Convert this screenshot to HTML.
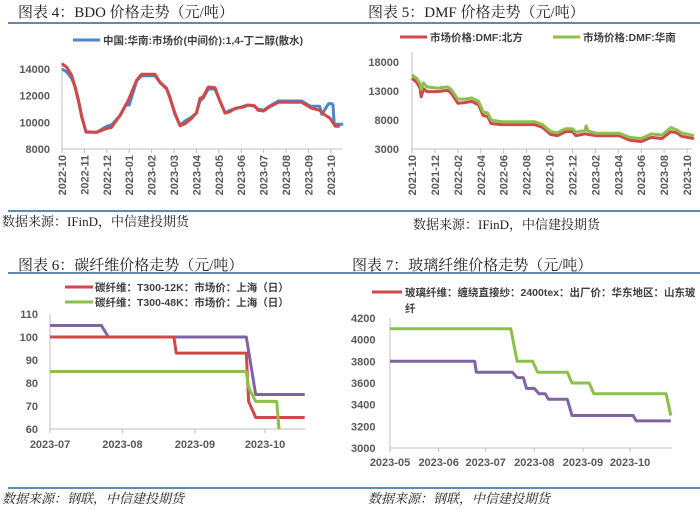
<!DOCTYPE html>
<html><head><meta charset="utf-8"><style>
body{margin:0;background:#fff;}
svg{display:block;font-family:"Liberation Sans","Noto Sans CJK SC",sans-serif;}
.t{font-family:"Liberation Serif","Noto Serif CJK SC",serif;font-size:15px;fill:#222;}
.src{font-family:"Liberation Serif","Noto Serif CJK SC",serif;font-size:13px;fill:#222;}
.tk{font-size:11px;font-weight:bold;fill:#595959;}
.lg{font-size:10.5px;font-weight:bold;fill:#404040;}
</style></head><body>
<svg id="s" width="700" height="528">
<text class="t" x="18" y="17">图表 4：BDO 价格走势（元/吨）</text>
<text class="t" x="368" y="17">图表 5：DMF 价格走势（元/吨）</text>
<text class="t" x="18" y="270">图表 6：碳纤维价格走势（元/吨）</text>
<text class="t" x="352" y="270">图表 7：玻璃纤维价格走势（元/吨）</text>
<line x1="8" y1="23" x2="700" y2="23" stroke="#2f6392" stroke-width="1.5"/>
<line x1="8" y1="211" x2="700" y2="211" stroke="#2f6392" stroke-width="1.5"/>
<line x1="8" y1="273" x2="700" y2="273" stroke="#2f6392" stroke-width="1.5"/>
<line x1="8" y1="488" x2="700" y2="488" stroke="#2f6392" stroke-width="1.5"/>
<text class="src" x="2" y="226">数据来源：IFinD，中信建投期货</text>
<text class="src" x="413" y="229">数据来源：IFinD，中信建投期货</text>
<text class="src" x="2" y="503" font-style="italic">数据来源：钢联，中信建投期货</text>
<text class="src" x="368" y="503" font-style="italic">数据来源：钢联，中信建投期货</text>

<line x1="73" y1="40" x2="100" y2="40" stroke="#4a86c8" stroke-width="3"/>
<text class="lg" x="103" y="44">中国:华南:市场价(中间价):1,4-丁二醇(散水)</text>
<line x1="400" y1="37" x2="427" y2="37" stroke="#d04848" stroke-width="3"/>
<text class="lg" x="430" y="41">市场价格:DMF:北方</text>
<line x1="553" y1="37" x2="580" y2="37" stroke="#8cc04a" stroke-width="3"/>
<text class="lg" x="583" y="41">市场价格:DMF:华南</text>
<line x1="65" y1="287" x2="93" y2="287" stroke="#d04848" stroke-width="3"/>
<text class="lg" x="95" y="291">碳纤维：T300-12K：市场价：上海（日）</text>
<line x1="65" y1="302" x2="93" y2="302" stroke="#8cc04a" stroke-width="3"/>
<text class="lg" x="95" y="306">碳纤维：T300-48K：市场价：上海（日）</text>
<line x1="372" y1="292" x2="402" y2="292" stroke="#d04848" stroke-width="3"/>
<text class="lg" x="405" y="296">玻璃纤维：缠绕直接纱：2400tex：出厂价：华东地区：山东玻</text>
<text class="lg" x="405" y="312">纤</text>
</svg>
<script>
// BDO (x = months since 2022-10)
const bdoMonths=["2022-10","2022-11","2022-12","2023-01","2023-02","2023-03","2023-04","2023-05","2023-06","2023-07","2023-08","2023-09","2023-10"];
const bdoYTicks=[8000,10000,12000,14000];
const bdoRedX=[0,0.2,0.43,0.58,0.73,0.88,1.07,1.55,2.0,2.2,2.6,2.96,3.33,3.55,4.15,4.37,4.67,4.82,5.04,5.27,5.49,5.79,6.0,6.16,6.3,6.53,6.83,7.05,7.28,7.5,7.72,8.1,8.3,8.6,8.75,9.0,9.25,9.66,10.7,11.15,11.5,11.74,11.97,12.2,12.4];
const bdoRedY=[14400,14150,13550,12650,11600,10400,9300,9250,9550,9600,10550,11650,13150,13600,13600,13000,12550,11800,10700,9750,9900,10300,10700,11800,11900,12650,12600,11600,10700,10800,11050,11150,11300,11250,10900,10850,11150,11500,11500,11050,10900,10550,10300,9700,9700];
const bdoBlueX=[0,0.2,0.43,0.58,0.73,0.88,1.07,1.55,2.0,2.2,2.6,2.85,3.0,3.33,3.55,4.15,4.37,4.67,4.82,5.04,5.27,5.49,5.79,6.0,6.16,6.3,6.53,6.83,7.05,7.28,7.5,7.72,8.1,8.3,8.6,8.75,9.0,9.25,9.66,10.7,11.1,11.5,11.6,11.9,12.05,12.1,12.15,12.55];
const bdoBlueY=[14000,13800,13300,12700,11700,10500,9250,9250,9700,9800,10500,11300,11300,13100,13500,13500,13000,12500,11900,10600,9800,10100,10400,10700,11600,11800,12500,12500,11600,10700,10900,11000,11200,11300,11200,11000,10900,11200,11600,11600,11200,11200,10600,11400,11400,11300,9850,9850];
// DMF (x = months since 2021-10)
const dmfLabels=["2021-10","2021-12","2022-02","2022-04","2022-06","2022-08","2022-10","2022-12","2023-02","2023-04","2023-06","2023-08","2023-10"];
const dmfYTicks=[3000,8000,13000,18000];
const dmfSouthX=[0,0.4,0.7,0.8,1.0,1.3,2.2,3.1,3.4,4.0,4.6,5.2,5.8,6.2,6.6,6.9,7.8,10.7,11.4,12.1,12.7,13.4,14.0,14.3,15.1,15.2,15.35,16.1,18.1,19.0,20.0,20.9,21.8,22.6,23.1,23.5,24.6];
const dmfSouthY=[15800,15200,14300,13300,14400,13700,13500,13700,13300,11600,11600,11800,11200,9400,9200,8000,7700,7700,7200,6000,5800,6500,6500,5900,6200,7000,6100,5700,5700,5000,4800,5600,5400,6700,6300,5800,5300];
const dmfNorthX=[0,0.4,0.7,0.8,1.0,1.3,2.2,3.1,3.4,4.0,4.6,5.2,5.8,6.2,6.6,6.9,7.8,10.7,11.4,12.1,12.7,13.4,14.0,14.3,15.1,15.2,15.35,16.1,18.1,19.0,20.0,20.9,21.8,22.6,23.1,23.5,24.6];
const dmfNorthY=[15200,14500,13500,12000,13400,12900,12900,13100,12700,10900,11000,11200,10600,8800,8600,7400,7200,7200,6700,5500,5300,6000,6000,5300,5600,5600,5500,5300,5300,4500,4300,5000,4800,6000,5800,5200,4800];
// Carbon fiber (x = days since 2023-07-01)
const cfLabels=["2023-07","2023-08","2023-09","2023-10"];
const cfLabelDays=[0,31,62,92];
const cfYTicks=[60,70,80,90,100,110];
const cfPurpleX=[0,22,25,84,88,109];
const cfPurpleY=[105,105,100,100,75,75];
const cfRedX=[0,53,54,84,85,88,109];
const cfRedY=[100,100,93,93,72,65,65];
const cfGreenX=[0,84,85,88,97,98];
const cfGreenY=[85,85,78,72,72,60];
// Glass fiber (x = days since 2023-05-01)
const gfLabels=["2023-05","2023-06","2023-07","2023-08","2023-09","2023-10"];
const gfLabelDays=[0,31,61,92,123,153];
const gfYTicks=[3000,3200,3400,3600,3800,4000,4200];
const gfGreenX=[0,77,81,91,94,113,116,127,130,176,179];
const gfGreenY=[4100,4100,3800,3800,3700,3700,3600,3600,3500,3500,3300];
const gfPurpleX=[0,54,55,78,81,85,87,92,95,99,101,113,116,155,157,179];
const gfPurpleY=[3800,3800,3700,3700,3650,3650,3550,3550,3500,3500,3450,3450,3300,3300,3250,3250];

const svg=document.getElementById('s');
const NS='http://www.w3.org/2000/svg';
function mk(tag,a){const e=document.createElementNS(NS,tag);for(const k in a)e.setAttribute(k,a[k]);svg.appendChild(e);return e;}
function lin(d0,d1,r0,r1){return v=>r0+(v-d0)/(d1-d0)*(r1-r0);}
function series(xs,ys,sx,sy,color,name){
  const pts=xs.map((x,i)=>sx(x).toFixed(1)+','+sy(ys[i]).toFixed(1)).join(' ');
  const p=mk('polyline',{points:pts,fill:'none',stroke:color,'stroke-width':3,'stroke-linejoin':'round'});
  
  
}
function yAxis(ticks,sy,x,anchor,name){
  ticks.forEach(t=>{const e=mk('text',{x:x,y:sy(t)+4,'text-anchor':anchor,class:'tk'});e.textContent=t;
  
  });
}
function axisLines(x0,x1,y0,y1,name){
  const a=mk('line',{x1:x0,y1:y0,x2:x0,y2:y1,stroke:'#bfbfbf','stroke-width':1});
  
  
  const b=mk('line',{x1:x0,y1:y0,x2:x1,y2:y0,stroke:'#bfbfbf','stroke-width':1});
  
  
}
// BDO
{const sx=lin(0,1,62,84.4), sy=lin(8000,14000,149,69);
axisLines(62,342,149,62,'bdo');
yAxis(bdoYTicks,sy,50,'end','bdo-y');
bdoMonths.forEach((m,i)=>{const x=sx(i);const t=mk('line',{x1:x,y1:149,x2:x,y2:153,stroke:'#bfbfbf'});


const e=mk('text',{x:0,y:0,class:'tk','text-anchor':'end',transform:`translate(${x+4},155) rotate(-90)`});e.textContent=m;

});
series(bdoBlueX,bdoBlueY,sx,sy,'#4a86c8','bdo-blue-line');
series(bdoRedX,bdoRedY,sx,sy,'#d04848','bdo-red-line');}
// DMF
{const sx=lin(0,1,412,423.46), sy=lin(3000,18000,149,62);
axisLines(412,692,149,52,'dmf');
yAxis(dmfYTicks,sy,399,'end','dmf-y');
dmfLabels.forEach((m,i)=>{const x=sx(i*2);const t=mk('line',{x1:x,y1:149,x2:x,y2:153,stroke:'#bfbfbf'});


const e=mk('text',{x:0,y:0,class:'tk','text-anchor':'end',transform:`translate(${x+4},155) rotate(-90)`});e.textContent=m;

});
series(dmfNorthX,dmfNorthY,sx,sy,'#d04848','dmf-north-line');
series(dmfSouthX,dmfSouthY,sx,sy,'#8cc04a','dmf-south-line');}
// Carbon
{const sx=lin(0,92,50,265), sy=lin(60,110,429,314);
axisLines(50,305,429,314,'carbon');
yAxis(cfYTicks,sy,38,'end','carbon-y');
cfLabels.forEach((m,i)=>{const x=sx(cfLabelDays[i]);const t=mk('line',{x1:x,y1:429,x2:x,y2:433,stroke:'#bfbfbf'});


const e=mk('text',{x:x,y:448,class:'tk','text-anchor':'middle'});e.textContent=m;

});
series(cfPurpleX,cfPurpleY,sx,sy,'#8064a2','carbon-purple-line');
series(cfRedX,cfRedY,sx,sy,'#d04848','carbon-12k-line');
series(cfGreenX,cfGreenY,sx,sy,'#8cc04a','carbon-48k-line');}
// Glass
{const sx=lin(0,153,390,630), sy=lin(3000,4200,448,318);
axisLines(390,672,448,318,'glass');
yAxis(gfYTicks,sy,351,'start','glass-y');
gfLabels.forEach((m,i)=>{const x=sx(gfLabelDays[i]);const t=mk('line',{x1:x,y1:448,x2:x,y2:452,stroke:'#bfbfbf'});


const e=mk('text',{x:x,y:466,class:'tk','text-anchor':'middle'});e.textContent=m;

});
series(gfGreenX,gfGreenY,sx,sy,'#8cc04a','glass-green-line');
series(gfPurpleX,gfPurpleY,sx,sy,'#8064a2','glass-purple-line');}
</script>
</body></html>
